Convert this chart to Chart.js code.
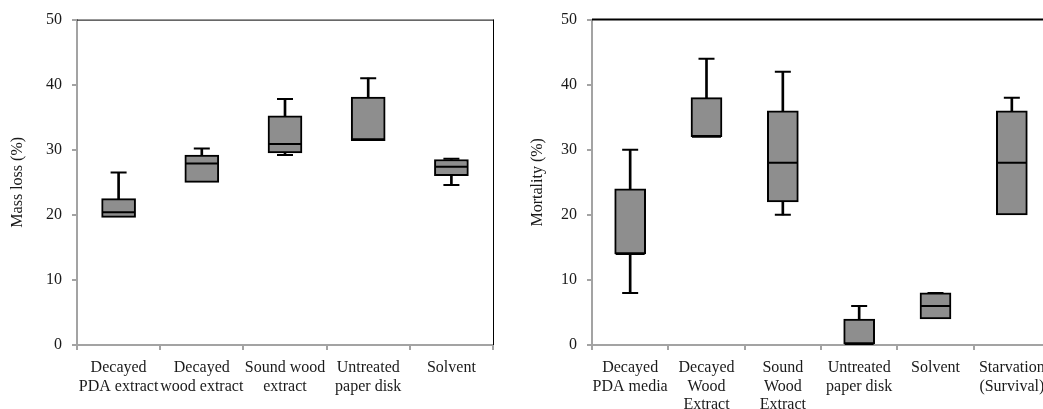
<!DOCTYPE html>
<html>
<head>
<meta charset="utf-8">
<script src="https://cdn.jsdelivr.net/npm/chart.js@4.4.1/dist/chart.umd.min.js"></script>
<style>
  html, body { margin: 0; padding: 0; background: #fff; overflow: hidden; }
  #wrap { position: relative; width: 1043px; height: 409px; overflow: hidden; }
  #c1 { position: absolute; left: 0; top: 0; }
  #c2 { position: absolute; left: 520px; top: 0; }
</style>
</head>
<body>
<div id="wrap">
  <canvas id="c1" width="520" height="409"></canvas>
  <canvas id="c2" width="560" height="409"></canvas>
</div>
<script>
// ---- Mass loss (%) ----
const massCategories = [["Decayed", "PDA extract"], ["Decayed", "wood extract"], ["Sound wood", "extract"], ["Untreated", "paper disk"], ["Solvent"]];
const massMin    = [19.6, 25.0, 29.2, 31.4, 24.6];
const massQ1     = [19.6, 25.0, 29.5, 31.4, 26.0];
const massMedian = [20.4, 27.9, 30.9, 31.6, 27.4];
const massQ3     = [22.5, 29.2, 35.2, 38.1, 28.5];
const massMax    = [26.5, 30.2, 37.8, 41.0, 28.6];

// ---- Mortality (%) ----
const mortCategories = [["Decayed", "PDA media"], ["Decayed", "Wood", "Extract"], ["Sound", "Wood", "Extract"], ["Untreated", "paper disk"], ["Solvent"], ["Starvation", "(Survival)"]];
const mortMin    = [8, 32, 20, 0, 4, 20];
const mortQ1     = [14, 32, 22, 0, 4, 20];
const mortMedian = [14, 32, 28, 0, 6, 28];
const mortQ3     = [24, 38, 36, 4, 8, 36];
const mortMax    = [30, 44, 42, 6, 8, 38];

const yTicks = [0, 10, 20, 30, 40, 50];

const FONT = "'Liberation Serif', 'Times New Roman', serif";
const AXIS_GRAY = '#a3a3a3';
const BOX_FILL = '#8e8e8e';
const TEXT = '#1a1a1a';

function pairs(a, b) {
  return a.map((v, i) => (b[i] > v ? [v, b[i]] : null));
}

function buildDatasets(minA, q1A, medA, q3A, maxA, boxW) {
  return [
    { type: 'line', data: medA, showLine: false, pointStyle: 'line', pointRadius: boxW / 2 - 1, pointHoverRadius: boxW / 2 - 1,
      borderColor: '#000', borderWidth: 2, backgroundColor: '#000' },
    { type: 'line', data: maxA, showLine: false, pointStyle: 'line', pointRadius: 8, pointHoverRadius: 8,
      borderColor: '#000', borderWidth: 2 },
    { type: 'line', data: minA.map((v, i) => (v < q1A[i] ? v : null)), showLine: false, pointStyle: 'line', pointRadius: 8, pointHoverRadius: 8,
      borderColor: '#000', borderWidth: 2 },
    { type: 'bar', data: pairs(q1A, q3A), backgroundColor: BOX_FILL, borderColor: '#000', borderWidth: 2,
      borderSkipped: false, barThickness: boxW, grouped: false },
    { type: 'bar', data: pairs(q3A, maxA), backgroundColor: '#000', borderWidth: 0, barThickness: 2, grouped: false },
    { type: 'bar', data: pairs(minA, q1A), backgroundColor: '#000', borderWidth: 0, barThickness: 2, grouped: false }
  ];
}

function frame(opts) {
  return {
    id: 'frame',
    afterDatasetsDraw(chart) {
      const { ctx, chartArea: a } = chart;
      ctx.save();
      ctx.strokeStyle = '#000';
      ctx.lineWidth = opts.topWidth;
      ctx.beginPath();
      ctx.moveTo(a.left, a.top + (opts.topWidth === 1 ? 0.5 : 0));
      ctx.lineTo(a.right + 1, a.top + (opts.topWidth === 1 ? 0.5 : 0));
      ctx.stroke();
      if (opts.right) {
        ctx.lineWidth = 1;
        ctx.beginPath();
        ctx.moveTo(a.right + 0.5, a.top);
        ctx.lineTo(a.right + 0.5, a.bottom);
        ctx.stroke();
      }
      ctx.restore();
    }
  };
}

function makeChart(id, cats, datasets, title, yWidth, pad, frameOpts) {
  return new Chart(document.getElementById(id), {
    data: { labels: cats, datasets },
    plugins: [frame(frameOpts)],
    options: {
      responsive: false,
      animation: false,
      events: [],
      layout: { padding: pad },
      plugins: { legend: { display: false }, tooltip: { enabled: false } },
      scales: {
        x: {
          type: 'category',
          offset: true,
          grid: { display: true, drawOnChartArea: false, drawTicks: true, tickLength: 5, color: AXIS_GRAY, lineWidth: 2, offset: true },
          border: { display: true, color: AXIS_GRAY, width: 2 },
          ticks: { color: TEXT, font: { family: FONT, size: 16, lineHeight: 1.14 }, padding: 9, maxRotation: 0, autoSkip: false },
          afterFit(s) { s.height = 64; }
        },
        y: {
          min: 0, max: 50,
          afterBuildTicks(s) { s.ticks = yTicks.map(v => ({ value: v })); },
          grid: { display: true, drawOnChartArea: false, drawTicks: true, tickLength: 5, color: AXIS_GRAY, lineWidth: 2 },
          border: { display: true, color: AXIS_GRAY, width: 2 },
          ticks: { color: TEXT, font: { family: FONT, size: 16 }, padding: 10 },
          title: { display: true, text: title, color: TEXT, font: { family: FONT, size: 16, lineHeight: 1.2 }, padding: { top: 8, bottom: 0 } },
          afterFit(s) { s.width = yWidth; }
        }
      }
    }
  });
}

makeChart('c1', massCategories, buildDatasets(massMin, massQ1, massMedian, massQ3, massMax, 34),
  'Mass loss (%)', 77, { top: 18, right: 27, bottom: 0, left: 0 }, { topWidth: 1, right: true });

makeChart('c2', mortCategories, buildDatasets(mortMin, mortQ1, mortMedian, mortQ3, mortMax, 31),
  'Mortality (%)', 72, { top: 18, right: 30, bottom: 0, left: 0 }, { topWidth: 2, right: false });
</script>
</body>
</html>
